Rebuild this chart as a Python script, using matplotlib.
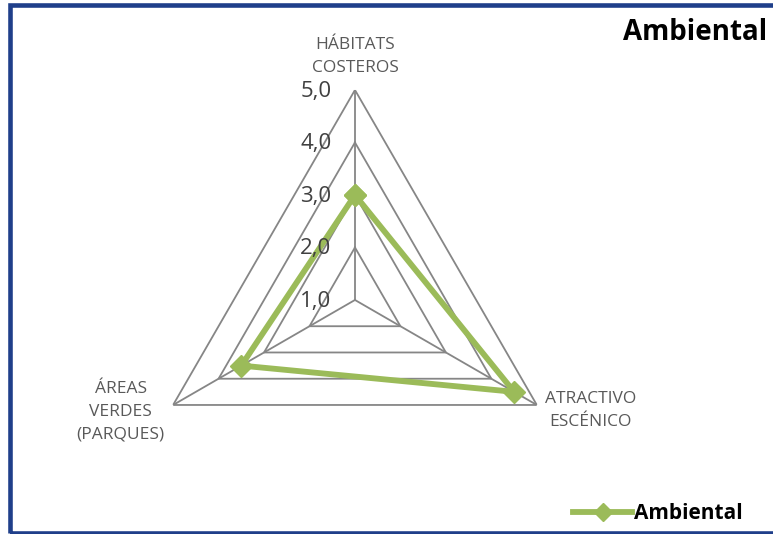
import matplotlib.pyplot as plt
import numpy as np
from matplotlib.patches import Rectangle
from matplotlib.lines import Line2D

plt.rcParams['font.family'] = ['Open Sans', 'DejaVu Sans']

# Datos
categorias = ["HÁBITATS\nCOSTEROS", "ATRACTIVO\nESCÉNICO", "ÁREAS\nVERDES\n(PARQUES)"]
valores = [3.0, 4.5, 3.5]
niveles = [2.0, 3.0, 4.0, 5.0]
etiquetas_r = ["1,0", "2,0", "3,0", "4,0", "5,0"]
r_ticks = [1.0, 2.0, 3.0, 4.0, 5.0]
serie = "Ambiental"

verde = "#9BBB59"
gris = "#868686"

n = len(categorias)
ang = np.arange(n) * 2 * np.pi / n
ang_c = np.append(ang, ang[0])

fig = plt.figure(figsize=(7.73, 5.34), dpi=100)
ax = fig.add_axes([0.1875, 0.045, 0.5434, 0.7865], projection='polar')
ax.set_theta_zero_location('N')
ax.set_theta_direction(-1)
ax.set_ylim(1, 5)
ax.grid(False)
ax.spines['polar'].set_visible(False)
ax.set_xticks([])
ax.set_yticks([])
ax.patch.set_alpha(0)

# Rejilla triangular
for r in niveles:
    ax.plot(ang_c, [r] * (n + 1), color=gris, lw=1.3, zorder=1)
for a in ang:
    ax.plot([a, a], [1, 5], color=gris, lw=1.3, zorder=1)

# Serie
ax.plot(ang_c, valores + [valores[0]], color=verde, lw=4.2, marker='D',
        markersize=11, zorder=3, clip_on=False)

# Etiquetas del eje radial
for r, t in zip(r_ticks, etiquetas_r):
    ax.annotate(t, xy=(0, r), xytext=(-17, -1), textcoords='offset points',
                ha='right', va='center', fontsize=16, color='#404040')

# Etiquetas de categorías
estilo = dict(textcoords='offset points', fontsize=12.5, color='#595959',
              multialignment='center', linespacing=1.55, annotation_clip=False)
ax.annotate(categorias[0], xy=(ang[0], 5), xytext=(0, 10),
            ha='center', va='bottom', **estilo)
ax.annotate(categorias[1], xy=(ang[1], 5), xytext=(6, -4),
            ha='left', va='center', **estilo)
ax.annotate(categorias[2], xy=(ang[2], 5), xytext=(-6, -5),
            ha='right', va='center', **estilo)

# Título
fig.text(0.992, 0.94, serie, ha='right', va='center', fontsize=20,
         fontweight='bold', color='black')

# Leyenda
h = Line2D([], [], color=verde, lw=4.2, marker='D', markersize=9)
fig.legend([h], [serie], loc='center right', bbox_to_anchor=(0.974, 0.038),
           frameon=False, prop={'size': 15, 'weight': 'bold'},
           handlelength=2.8, handletextpad=0.1, borderpad=0)

# Marco
fig.patches.append(Rectangle((0.0133, 0.0028), 1.1, 0.9878, transform=fig.transFigure,
                             fill=False, edgecolor='#1F3F8A', lw=3.3))

fig.savefig("out.png", dpi=100)
